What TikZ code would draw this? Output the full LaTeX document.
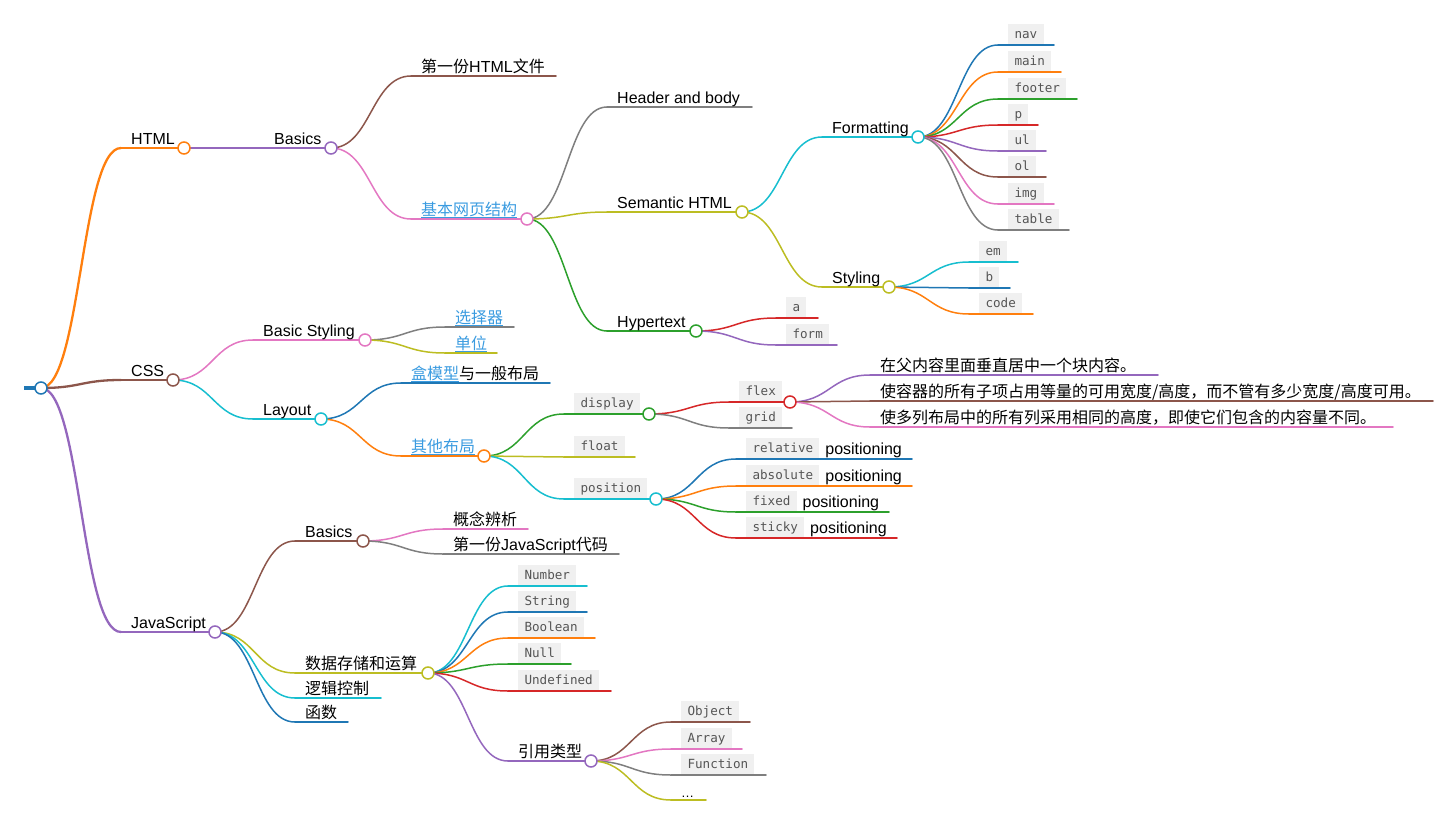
\documentclass[tikz,border=0pt]{standalone}
\usepackage{fontspec}
\usepackage{xcolor}
\usepackage{tikz}
\usetikzlibrary{positioning,calc}
\setmainfont{Liberation Sans}
\newfontfamily\cjk{Noto Sans CJK SC}
\newfontfamily\codefont{DejaVu Sans Mono}
\newcommand\zh[1]{{\cjk #1}}
\newcommand\lnk[1]{\textcolor{linkblue}{\setbox0\hbox{#1}\rlap{\rule[-2.6pt]{\wd0}{0.9pt}}\box0}}
\definecolor{cblue}{HTML}{1F77B4}
\definecolor{corange}{HTML}{FF7F0E}
\definecolor{cgreen}{HTML}{2CA02C}
\definecolor{cred}{HTML}{D62728}
\definecolor{cpurple}{HTML}{9467BD}
\definecolor{cbrown}{HTML}{8C564B}
\definecolor{cpink}{HTML}{E377C2}
\definecolor{cgray}{HTML}{7F7F7F}
\definecolor{colive}{HTML}{BCBD22}
\definecolor{ccyan}{HTML}{17BECF}
\definecolor{linkblue}{HTML}{3A9BE0}
\definecolor{codebg}{HTML}{F0F0F0}
\definecolor{codefg}{HTML}{555555}
\tikzset{
txt/.style={
anchor=base west,
inner sep=0pt,
text=black,
font=\fontsize{16}{19}\selectfont
},
tag/.style={
anchor=south west,
fill=codebg,
text=codefg,
inner xsep=6.3pt,
inner ysep=4.5pt,
text height=10pt,
text depth=1.5pt,
font=\codefont\fontsize{12.6}{14}\selectfont
},
stem/.style={
draw=#1,
line width=1.5pt,
line cap=round
},
dot/.style={
circle,
draw=#1,
fill=white,
line width=1.5pt,
minimum size=12pt,
inner sep=0pt
}
}

\begin{document}
\begin{tikzpicture}[x=1pt,y=-1pt]
\useasboundingbox (0,0) rectangle (1449,817);

\coordinate (root-l) at (24,388);
\coordinate (root-e) at (41,388);
\draw[stem=cblue,line width=4.5pt,line cap=butt](root-l)--(root-e);

\foreach \n/\s/\e/\y/\col in {html/121/184/148/corange,css/121/173/380/cbrown,js/121/215/632/cpurple}{
\coordinate (\n-l) at (\s,\y);
\coordinate (\n-e) at (\e,\y);
\draw[stem=\col,line width=2.3pt](\n-l)--(\n-e);
}

\foreach \n/\s/\e/\y/\col in {
hbas/264/331/148/cpurple,bsty/253/365/340/cpink,lay/253/321/419/ccyan,
jbas/295/363/541/cbrown,data/295/428/673/colive,logic/295/381/698/ccyan,func/295/348/722/cblue,
hfirst/411/556/76/cbrown,struct/411/527/219/cpink,sel/445/514/327/cgray,unit/445/497/353/colive,
box/401/550/383/cblue,other/401/484/456/corange,concept/443/528/529/cpink,jfirst/443/619/554/cgray,
number/508/587/586/ccyan,string/508/587/612/cblue,boolean/508/595/638/corange,
null/508/571/664/cgreen,undef/508/611/691/cred,ref/508/591/761/cpurple,
header/607/752/107/cgray,sem/607/742/212/colive,hyper/607/696/331/cgreen,
display/564/649/414/cgreen,float/564/635/457/colive,position/564/656/499/ccyan,
object/671/750/722/cbrown,array/671/742/749/cpink,function/671/766/775/cgray,more/671/706/800/colive,
fmt/822/918/137/ccyan,sty/822/889/287/colive,a/776/818/318/cred,form/776/837/345/cpurple,
flex/729/790/402/cred,grid/729/792/428/cgray,
rel/736/912/459/cblue,abs/736/912/486/corange,fixed/736/889/512/cgreen,sticky/736/897/538/cred,
nav/998/1054/45/cblue,main/998/1061/72/corange,footer/998/1077/99/cgreen,p/998/1038/125/cred,
ul/998/1046/151/cpurple,ol/998/1046/177/cbrown,img/998/1054/204/cpink,table/998/1069/230/cgray,
em/969/1018/262/ccyan,b/969/1010/288/cblue,code/969/1033/314/corange,
f1/870/1158/375/cpurple,f2/870/1433/401/cbrown,f3/870/1393/427/cpink}{
\coordinate (\n-l) at (\s,\y);
\coordinate (\n-e) at (\e,\y);
\draw[stem=\col](\n-l)--(\n-e);
}

\foreach \from/\to/\col in {root/html/corange,root/css/cbrown,root/js/cpurple}
\draw[stem=\col,line width=2.3pt] let \p1=(\from-e), \p2=(\to-l) in
(\p1) .. controls ({(\x1+\x2)/2},\y1) and ({(\x1+\x2)/2},\y2) .. (\p2);

\foreach \from/\to/\col in {
html/hbas/cpurple,css/bsty/cpink,css/lay/ccyan,js/jbas/cbrown,js/data/colive,js/logic/ccyan,js/func/cblue,
hbas/hfirst/cbrown,hbas/struct/cpink,bsty/sel/cgray,bsty/unit/colive,lay/box/cblue,lay/other/corange,
jbas/concept/cpink,jbas/jfirst/cgray,data/number/ccyan,data/string/cblue,data/boolean/corange,
data/null/cgreen,data/undef/cred,data/ref/cpurple,
struct/header/cgray,struct/sem/colive,struct/hyper/cgreen,
other/display/cgreen,other/float/colive,other/position/ccyan,
ref/object/cbrown,ref/array/cpink,ref/function/cgray,ref/more/colive,
sem/fmt/ccyan,sem/sty/colive,hyper/a/cred,hyper/form/cpurple,display/flex/cred,display/grid/cgray,
position/rel/cblue,position/abs/corange,position/fixed/cgreen,position/sticky/cred,
fmt/nav/cblue,fmt/main/corange,fmt/footer/cgreen,fmt/p/cred,fmt/ul/cpurple,fmt/ol/cbrown,fmt/img/cpink,fmt/table/cgray,
sty/em/ccyan,sty/b/cblue,sty/code/corange,flex/f1/cpurple,flex/f2/cbrown,flex/f3/cpink}
\draw[stem=\col] let \p1=(\from-e), \p2=(\to-l) in
(\p1) .. controls ({(\x1+\x2)/2},\y1) and ({(\x1+\x2)/2},\y2) .. (\p2);

\foreach \n/\col in {root/cblue,html/corange,css/cbrown,js/cpurple,hbas/cpurple,bsty/cpink,lay/ccyan,
jbas/cbrown,data/colive,struct/cpink,other/corange,ref/cpurple,sem/colive,hyper/cgreen,
display/cgreen,position/ccyan,fmt/ccyan,sty/colive,flex/cred}
\node[dot=\col] (\n-c) at (\n-e) {};

\node[txt] (html-t) at (131,144) {HTML};
\node[txt] (css-t) at (131,376) {CSS};
\node[txt] (js-t) at (131,628) {JavaScript};
\node[txt] (hbas-t) at (274,144) {Basics};
\node[txt] (bsty-t) at (263,336) {Basic Styling};
\node[txt] (lay-t) at (263,415) {Layout};
\node[txt] (jbas-t) at (305,537) {Basics};
\node[txt] (data-t) at (305,669.5) {\zh{数据存储和运算}};
\node[txt] (logic-t) at (305,694.5) {\zh{逻辑控制}};
\node[txt] (func-t) at (305,718.5) {\zh{函数}};
\node[txt] (hfirst-t) at (421,72.5) {\zh{第一份}HTML\zh{文件}};
\node[txt] (struct-t) at (421,215.5) {\lnk{\zh{基本网页结构}}};
\node[txt] (sel-t) at (455,323.5) {\lnk{\zh{选择器}}};
\node[txt] (unit-t) at (455,349.5) {\lnk{\zh{单位}}};
\node[txt] (box-t) at (411,379.5) {\lnk{\zh{盒模型}}\zh{与一般布局}};
\node[txt] (other-t) at (411,452.5) {\lnk{\zh{其他布局}}};
\node[txt] (concept-t) at (453,525.5) {\zh{概念辨析}};
\node[txt] (jfirst-t) at (453,550.5) {\zh{第一份}JavaScript\zh{代码}};
\node[txt] (ref-t) at (518,757.5) {\zh{引用类型}};
\node[txt] (header-t) at (617,103) {Header and body};
\node[txt] (sem-t) at (617,208) {Semantic HTML};
\node[txt] (hyper-t) at (617,327) {Hypertext};
\node[txt] (fmt-t) at (832,133) {Formatting};
\node[txt] (sty-t) at (832,283) {Styling};
\node[txt] (f1-t) at (880,371.5) {\zh{在父内容里面垂直居中一个块内容。}};
\node[txt] (f2-t) at (880,397.5) {\zh{使容器的所有子项占用等量的可用宽度/高度，而不管有多少宽度/高度可用。}};
\node[txt] (f3-t) at (880,423.5) {\zh{使多列布局中的所有列采用相同的高度，即使它们包含的内容量不同。}};
\node[txt,font=\fontsize{13}{15}\selectfont] (more-t) at (681,797) {…};

\node[tag] (number-t) at (518,585.25) {Number};
\node[tag] (string-t) at (518,611.25) {String};
\node[tag] (boolean-t) at (518,637.25) {Boolean};
\node[tag] (null-t) at (518,663.25) {Null};
\node[tag] (undef-t) at (518,690.25) {Undefined};
\node[tag] (object-t) at (681,721.25) {Object};
\node[tag] (array-t) at (681,748.25) {Array};
\node[tag] (function-t) at (681,774.25) {Function};
\node[tag] (display-t) at (574,413.25) {display};
\node[tag] (float-t) at (574,456.25) {float};
\node[tag] (position-t) at (574,498.25) {position};
\node[tag] (a-t) at (786,317.25) {a};
\node[tag] (form-t) at (786,344.25) {form};
\node[tag] (flex-t) at (739,401.25) {flex};
\node[tag] (grid-t) at (739,427.25) {grid};
\node[tag] (rel-t) at (746,458.25) {relative};
\node[tag] (abs-t) at (746,485.25) {absolute};
\node[tag] (fixed-t) at (746,511.25) {fixed};
\node[tag] (sticky-t) at (746,537.25) {sticky};
\node[tag] (nav-t) at (1008,44.25) {nav};
\node[tag] (main-t) at (1008,71.25) {main};
\node[tag] (footer-t) at (1008,98.25) {footer};
\node[tag] (p-t) at (1008,124.25) {p};
\node[tag] (ul-t) at (1008,150.25) {ul};
\node[tag] (ol-t) at (1008,176.25) {ol};
\node[tag] (img-t) at (1008,203.25) {img};
\node[tag] (table-t) at (1008,229.25) {table};
\node[tag] (em-t) at (979,261.25) {em};
\node[tag] (b-t) at (979,287.25) {b};
\node[tag] (code-t) at (979,313.25) {code};

\foreach \n in {rel,abs,fixed,sticky}
\node[txt] (\n-p) at ($(\n-t.south east)+(5.5,-3.5)$) {positioning};
\end{tikzpicture}
\end{document}
